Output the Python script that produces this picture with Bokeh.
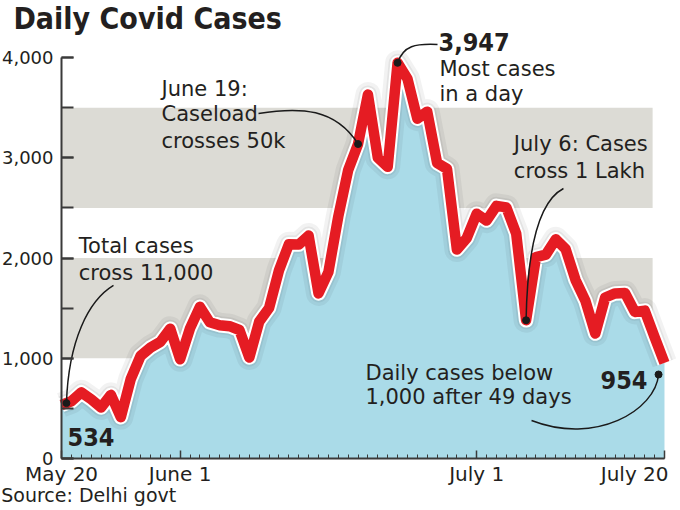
import datetime as dt
import numpy as np
from bokeh.plotting import figure
from bokeh.models import FixedTicker, NumeralTickFormatter, Range1d, ColumnDataSource
from bokeh.core.properties import value
from bokeh.embed import file_html
from bokeh.resources import INLINE

# ---------------- data ----------------
start = dt.date(2020, 5, 20)
dates = [start + dt.timedelta(days=i) for i in range(62)]
cases = [534, 571, 660, 591, 508, 635, 412, 792, 1024, 1106, 1163, 1295,
         990, 1298, 1513, 1359, 1330, 1320, 1282, 1007, 1366, 1501, 1877, 2137,
         2134, 2224, 1647, 1859, 2414, 2877, 3137, 3630, 3000, 2909, 3947, 3788,
         3390, 3460, 2948, 2889, 2084, 2199, 2442, 2373, 2520, 2505, 2244, 1379,
         2008, 2033, 2187, 2089, 1781, 1573, 1246, 1606, 1647, 1652, 1462, 1475,
         1211, 954]
tick_dates = [dt.date(2020, 5, 20), dt.date(2020, 6, 1), dt.date(2020, 7, 1), dt.date(2020, 7, 20)]
tick_labels = ["May 20", "June 1", "July 1", "July 20"]
y_ticks = [0, 1000, 2000, 3000, 4000]
y_minor = [0, 500, 1000, 1500, 2000, 2500, 3000, 3500, 4000]
band_bottom = [1000, 2500]
band_top = [2000, 3500]

day = [(d - start).days for d in dates]
tick_pos = [(d - start).days for d in tick_dates]

TXT = "#231f20"
FONT = "DejaVu Sans"
FONT_C = "DejaVu Sans Condensed"

# frame covers the whole canvas; axes sit at fixed data locations
p = figure(width=680, height=510, output_backend="svg", toolbar_location=None,
           x_range=Range1d(-6.171, 62.62), y_range=Range1d(-518.7, 4568.6),
           min_border=0)
p.min_border_left = 0
p.min_border_right = 0
p.min_border_top = 0
p.min_border_bottom = 0
p.outline_line_color = None
p.xgrid.grid_line_color = None
p.ygrid.grid_line_color = None
p.background_fill_color = "white"
p.border_fill_color = "white"

# bands
p.quad(left=0, right=59.8, bottom=band_bottom, top=band_top,
       fill_color="#dcdbd5", line_color=None)

# area
p.varea(x=day, y1=0, y2=cases, fill_color="#aadbe8")

# shadow + halo + line
p.line(day, cases, line_width=25, line_color="black", line_alpha=0.05, line_join="round")
p.line(day, cases, line_width=18, line_color="black", line_alpha=0.06, line_join="round")
p.line(day, cases, line_width=14.5, line_color="white", line_join="round")
p.line(day, cases, line_width=10.5, line_color="#e51c23", line_join="round")

# connectors
d0x = 0.5
d0y = float(np.interp(d0x, day, cases))
i19 = dates.index(dt.date(2020, 6, 19))
i23 = int(np.argmax(cases))
i06 = dates.index(dt.date(2020, 7, 6))
dot954 = (60.4, 838)

p.bezier(x0=[5.26, 19.93, day[i23], 50.78, dot954[0]],
         y0=[1726, 3441, cases[i23], 2693, dot954[1]],
         x1=[d0x, day[i19], 38.04, day[i06], 47.55],
         y1=[d0y, cases[i19], 4130, cases[i06], 379],
         cx0=[2.73, 24.18, 34.6, 48.46, 60.09],
         cy0=[1576, 3511, 4120, 2574, 479],
         cx1=[0.71, 27.72, 35.81, 47.14, 54.02],
         cy1=[1177, 3491, 4140, 2175, 130],
         line_color="#1a1a1a", line_width=1.5)
p.scatter([d0x, day[i19], day[i23], day[i06], dot954[0]],
          [d0y, cases[i19], cases[i23], cases[i06], dot954[1]],
          size=7, color="#1a1a1a")

# annotation text
ann = ColumnDataSource(dict(
    x=[1.75, 1.75, 10.12, 10.12, 10.12, 38.24, 38.24, 45.76, 45.76, 30.75, 30.75],
    y=[2120, 1854, 3682, 3433, 3165, 3881, 3639, 3133, 2868, 856, 617],
    t=["Total cases", "cross 11,000", "June 19:", "Caseload", "crosses 50k",
       "Most cases", "in a day", "July 6: Cases", "cross 1 Lakh",
       "Daily cases below", "1,000 after 49 days"]))
p.text(x="x", y="y", text="t", source=ann, text_font=value(FONT), text_font_size="21px",
       text_color=TXT, text_baseline="alphabetic", text_align="left")

bold = ColumnDataSource(dict(x=[0.61, 38.14, 54.53], y=[215, 4153, 785],
                             t=["534", "3,947", "954"]))
p.text(x="x", y="y", text="t", source=bold, text_font=value(FONT_C), text_font_style="bold",
       text_font_size="25px", text_color=TXT, text_baseline="alphabetic", text_align="left")

# title, source and last x label (inside the full-canvas frame)
p.text(x=[-4.86], y=[4386], text=["Daily Covid Cases"], text_font=value(FONT_C),
       text_font_style="bold", text_font_size="30px", text_color=TXT,
       text_baseline="alphabetic", text_align="left")
p.text(x=[-6.1], y=[-369], text=["Source: Delhi govt"], text_font=value(FONT),
       text_font_size="19px", text_color=TXT, text_baseline="alphabetic", text_align="left")
p.text(x=[61.41], y=[-159], text=[tick_labels[3]], text_font=value(FONT),
       text_font_size="20px", text_color=TXT, text_baseline="alphabetic", text_align="right")

# axes
ax = p.yaxis[0]
ax.fixed_location = 0
ax.ticker = FixedTicker(ticks=y_ticks, minor_ticks=y_minor)
ax.formatter = NumeralTickFormatter(format="0,0")
ax.bounds = (0, 4000)
ax.major_tick_in = 12
ax.major_tick_out = 0
ax.minor_tick_in = 12
ax.minor_tick_out = 0
ax.axis_line_width = 2
ax.axis_line_color = "#3a3a3a"
ax.major_tick_line_width = 2
ax.minor_tick_line_width = 2
ax.major_tick_line_color = "#3a3a3a"
ax.minor_tick_line_color = "#3a3a3a"
ax.major_label_standoff = 8
ax.major_label_text_font = FONT
ax.major_label_text_font_size = "18px"
ax.major_label_text_color = TXT

bx = p.xaxis[0]
bx.fixed_location = 0
bx.ticker = FixedTicker(ticks=tick_pos, minor_ticks=day)
bx.major_label_overrides = {tick_pos[i]: tick_labels[i] for i in range(3)}
bx.major_label_overrides[tick_pos[3]] = ""
bx.bounds = (0, 61)
bx.major_tick_in = 8
bx.major_tick_out = 0
bx.minor_tick_in = 4
bx.minor_tick_out = 0
bx.axis_line_width = 2
bx.axis_line_color = "#3a3a3a"
bx.major_tick_line_color = "#3a3a3a"
bx.minor_tick_line_color = "#3a3a3a"
bx.major_tick_line_width = 1.5
bx.major_label_standoff = 3
bx.major_label_text_font = FONT
bx.major_label_text_font_size = "20px"
bx.major_label_text_color = TXT

open("out.html", "w").write(file_html(p, INLINE))
